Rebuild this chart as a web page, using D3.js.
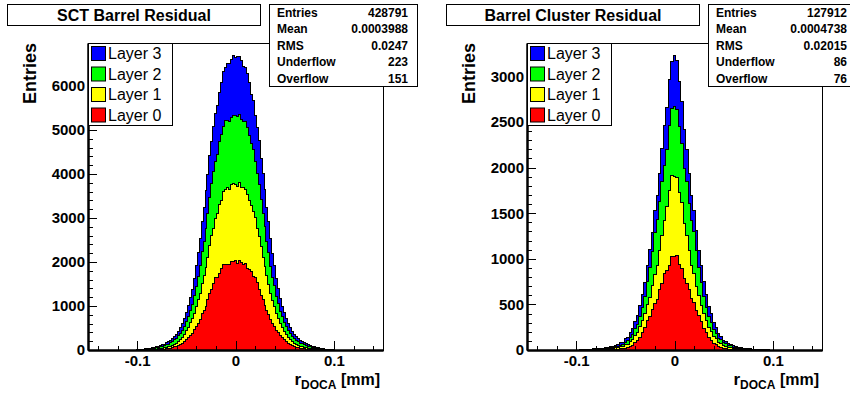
<!DOCTYPE html>
<html>
<head>
<meta charset="utf-8">
<script src="https://cdn.jsdelivr.net/npm/d3@7"></script>
<style>
  body { margin: 0; background: #fff; }
  svg { display: block; font-family: 'Liberation Sans', Arial, Helvetica, sans-serif; }
</style>
</head>
<body>
<svg id="chart" width="850" height="396"></svg>
<script>
// ---- data ----
const layerNames = ['Layer 0', 'Layer 1', 'Layer 2', 'Layer 3']
const statNames = ['Entries', 'Mean', 'RMS', 'Underflow', 'Overflow']

const xRange = [-0.15, 0.15]
const xTickValues = [-0.1, 0, 0.1]

// SCT barrel residual, 101 bins of 0.002 mm starting at -0.101 mm
const sctTitle = 'SCT Barrel Residual'
const sctBinWidth = 0.002
const sctFirstEdge = -0.101
const sctLayer0 = [0,1,0,1,2,2,3,4,4,6,6,10,11,16,18,26,31,44,52,70,78,103,120,155,186,240,276,340,384,458,
  536,606,700,820,892,986,1157,1288,1383,1507,1641,1650,1742,1855,1946,1940,1946,1942,2021,2000,
  2024,
  1976,2045,1990,1946,1963,1854,1833,1784,1670,1641,1525,1383,1243,1143,1022,892,810,700,599,536,
  444,396,328,284,228,194,146,126,97,82,65,56,40,34,24,20,14,12,8,7,5,3,4,2,2,1,1,0,1,0]
const sctLayer1 = [3,4,3,5,6,6,8,9,11,12,15,16,22,24,29,32,40,43,55,63,80,94,120,137,170,195,240,274,332,376,
  447,532,593,685,796,880,956,1093,1208,1258,1347,1450,1559,1552,1650,1710,1741,1698,1747,1792,
  1729,
  1750,1768,1698,1741,1690,1690,1571,1505,1467,1363,1243,1194,1106,968,880,796,685,586,526,447,
  386,322,282,230,202,164,143,114,98,76,67,51,45,37,34,27,25,20,18,13,12,11,8,7,6,5,4,4,3,2]
const sctLayer2 = [2,4,4,6,6,10,11,16,17,24,26,35,37,47,50,62,64,77,80,97,101,122,130,154,172,212,236,286,324,398,
  457,540,627,723,777,901,990,1074,1194,1283,1304,1346,1427,1485,1482,1556,1535,1564,1510,1531,
  1569,
  1588,1529,1545,1499,1538,1518,1467,1410,1414,1288,1253,1194,1074,990,912,787,715,620,534,475,
  384,336,276,244,204,180,147,136,115,107,90,85,72,68,57,53,44,40,32,29,21,19,14,12,9,8,5,4,3,2]
const sctLayer3 = [4,6,6,8,10,9,13,14,17,18,23,24,30,32,39,43,53,58,73,82,99,112,136,152,186,208,250,284,346,394,
  479,534,606,700,782,850,882,962,956,1020,1073,1113,1126,1180,1250,1223,1298,1310,1314,1359,
  1318,
  1359,1330,1342,1268,1238,1220,1208,1112,1113,1047,1032,980,918,915,840,764,708,627,528,467,
  406,334,292,240,216,178,158,130,116,95,86,69,61,50,45,37,34,28,26,21,19,17,13,12,11,8,8,6,5,4]
const sctStats = ['428791', '0.0003988', '0.0247', '223', '151']
const sctYMax = 6977
const sctYTicks = [0, 1000, 2000, 3000, 4000, 5000, 6000]

// Barrel cluster residual, 77 bins of 0.0025 mm starting at -0.09625 mm
const clusterTitle = 'Barrel Cluster Residual'
const clusterBinWidth = 0.0025
const clusterFirstEdge = -0.09625
const clusterLayer0 = [0,1,0,0,1,2,1,1,2,3,3,2,5,4,7,8,11,13,21,27,40,52,78,102,
  142,193,244,320,369,440,513,557,658,725,834,872,927,1020,
  1020,
  1035,941,898,786,725,658,566,521,433,375,315,240,193,142,
  108,74,56,36,30,19,15,9,9,5,6,3,4,2,3,1,2,1,0,1,0,0,1,0]
const clusterLayer1 = [1,2,2,1,3,3,4,4,6,5,8,7,11,12,16,17,23,25,34,38,54,64,83,92,
  112,128,159,180,209,266,320,364,435,526,582,699,822,891,
  880,
  852,786,721,600,526,428,358,320,262,218,177,159,130,108,
  98,78,68,50,42,30,27,21,19,14,13,9,9,6,6,4,4,3,2,2,2,1,1,1]
const clusterLayer2 = [1,0,2,1,2,3,2,3,4,4,6,5,9,10,13,14,20,23,31,36,48,56,74,88,
  117,150,187,254,330,378,450,508,532,593,610,630,711,734,
  771,
  745,722,640,601,593,524,500,457,396,310,250,193,148,119,
  92,70,60,44,38,29,25,18,16,11,11,7,7,4,5,3,3,2,2,2,1,1,1,1]
const clusterLayer3 = [2,3,2,3,4,3,5,4,6,6,8,8,11,12,16,17,23,26,35,39,52,60,80,92,
  113,139,155,172,198,209,248,270,305,365,432,456,510,522,
  556,
  538,494,470,426,355,320,270,232,218,192,181,155,137,113,
  98,76,64,48,42,31,28,21,19,14,13,9,9,6,6,4,5,3,4,3,2,3,2,2]
const clusterStats = ['127912', '0.0004738', '0.02015', '86', '76']
const clusterYMax = 3366
const clusterYTicks = [0, 500, 1000, 1500, 2000, 2500, 3000]

// ---- look ----
const layerColors = ['#ff0000', '#ffff00', '#00ff00', '#0000ff']
const frame = { left: 88, right: 383, top: 43, bottom: 350 }
const fontBold = 'bold'

const svg = d3.select('#chart')

const panels = [
  { offset: 0, title: sctTitle, binWidth: sctBinWidth, firstEdge: sctFirstEdge,
    layers: [sctLayer0, sctLayer1, sctLayer2, sctLayer3], stats: sctStats,
    yMax: sctYMax, yTicks: sctYTicks, yMinor: 200 },
  { offset: 439, title: clusterTitle, binWidth: clusterBinWidth, firstEdge: clusterFirstEdge,
    layers: [clusterLayer0, clusterLayer1, clusterLayer2, clusterLayer3], stats: clusterStats,
    yMax: clusterYMax, yTicks: clusterYTicks, yMinor: 100 }
]

panels.forEach(drawPanel)

function drawPanel(p) {
  const g = svg.append('g').attr('transform', `translate(${p.offset},0)`)

  const x = d3.scaleLinear().domain(xRange).range([frame.left, frame.right])
  const y = d3.scaleLinear().domain([0, p.yMax]).range([frame.bottom, frame.top])

  // frame
  g.append('rect')
    .attr('x', frame.left + 0.5).attr('y', frame.top + 0.5)
    .attr('width', frame.right - frame.left).attr('height', frame.bottom - frame.top)
    .attr('fill', 'none').attr('stroke', '#000').attr('stroke-width', 1)

  // stacked histograms (cumulative outlines, drawn from the top layer down)
  const rows = p.layers[0].map((_, i) => {
    const row = {}
    layerNames.forEach((name, j) => { row[name] = p.layers[j][i] })
    return row
  })
  const stacked = d3.stack().keys(layerNames)(rows)
  const outline = d3.line().x(d => x(d[0])).y(d => y(d[1]))

  stacked.slice().reverse().forEach((s) => {
    const pts = [[p.firstEdge, 0]]
    s.forEach((b, i) => {
      const lo = p.firstEdge + i * p.binWidth
      pts.push([lo, b[1]], [lo + p.binWidth, b[1]])
    })
    pts.push([p.firstEdge + s.length * p.binWidth, 0])
    g.append('path')
      .attr('d', outline(pts) + 'Z')
      .attr('fill', layerColors[s.index])
      .attr('stroke', '#000')
      .attr('stroke-width', 1)
      .attr('shape-rendering', 'crispEdges')
  })

  // axes
  const yMinorTicks = d3.range(0, p.yMax, p.yMinor)
  const xMinorTicks = d3.range(-0.14, 0.1401, 0.02)

  g.append('g')
    .attr('transform', `translate(${frame.left},0)`)
    .call(d3.axisLeft(y).tickValues(yMinorTicks).tickSizeInner(-4.5).tickSizeOuter(0).tickFormat(''))
  const yAxis = g.append('g')
    .attr('transform', `translate(${frame.left},0)`)
    .call(d3.axisLeft(y).tickValues(p.yTicks).tickSizeInner(-9).tickSizeOuter(0).tickPadding(3).tickFormat(d => d))

  g.append('g')
    .attr('transform', `translate(0,${frame.bottom})`)
    .call(d3.axisBottom(x).tickValues(xMinorTicks).tickSizeInner(-4.5).tickSizeOuter(0).tickFormat(''))
  const xAxis = g.append('g')
    .attr('transform', `translate(0,${frame.bottom})`)
    .call(d3.axisBottom(x).tickValues(xTickValues).tickSizeInner(-9).tickSizeOuter(0).tickPadding(5).tickFormat(d => String(d)))

  g.selectAll('.domain').attr('stroke-width', 2)
  g.selectAll('.tick line').attr('shape-rendering', 'crispEdges')
  ;[xAxis, yAxis].forEach(a => a.selectAll('text')
    .attr('font-family', null)
    .style('font-size', '15px')
    .style('font-weight', fontBold)
    .attr('fill', '#000'))

  // axis titles
  g.append('text')
    .attr('transform', `translate(36,${frame.top}) rotate(-90)`)
    .attr('text-anchor', 'end')
    .style('font-size', '18px').style('font-weight', fontBold)
    .text('Entries')

  const xt = g.append('text')
    .attr('x', frame.right - 3).attr('y', 385)
    .attr('text-anchor', 'end')
    .style('font-weight', fontBold)
  xt.append('tspan').style('font-size', '17px').text('r')
  xt.append('tspan').style('font-size', '12px').attr('dy', 4).text('DOCA')
  xt.append('tspan').style('font-size', '16px').attr('dy', -4).text(' [mm]')

  // legend
  const legend = g.append('g').attr('transform', `translate(${frame.left},${frame.top})`)
  legend.append('rect')
    .attr('x', 0.5).attr('y', 0.5).attr('width', 84).attr('height', 82)
    .attr('fill', '#fff').attr('stroke', '#000')
  layerNames.slice().reverse().forEach((name, i) => {
    const idx = layerNames.length - 1 - i
    legend.append('rect')
      .attr('x', 3.5).attr('y', 3.5 + i * 20.5).attr('width', 14).attr('height', 14)
      .attr('fill', layerColors[idx]).attr('stroke', '#000')
    legend.append('text')
      .attr('x', 20).attr('y', 16 + i * 20.5)
      .style('font-size', '16px')
      .text(name)
  })

  // stats box
  const stats = g.append('g').attr('transform', 'translate(269,4)')
  stats.append('rect')
    .attr('x', 0.5).attr('y', 0.5).attr('width', 148).attr('height', 82)
    .attr('fill', '#fff').attr('stroke', '#000')
  statNames.forEach((name, i) => {
    stats.append('text')
      .attr('x', 8).attr('y', 12.5 + i * 16.6)
      .style('font-size', '12px').style('font-weight', fontBold)
      .text(name)
    stats.append('text')
      .attr('x', 139).attr('y', 12.5 + i * 16.6)
      .attr('text-anchor', 'end')
      .style('font-size', '12px').style('font-weight', fontBold)
      .text(p.stats[i])
  })

  // title box
  g.append('rect')
    .attr('x', 7.5).attr('y', 4.5).attr('width', 253).attr('height', 21)
    .attr('fill', '#fff').attr('stroke', '#000')
  g.append('text')
    .attr('x', 134).attr('y', 20.5)
    .attr('text-anchor', 'middle')
    .style('font-size', '16px').style('font-weight', fontBold)
    .text(p.title)
}
</script>
</body>
</html>
